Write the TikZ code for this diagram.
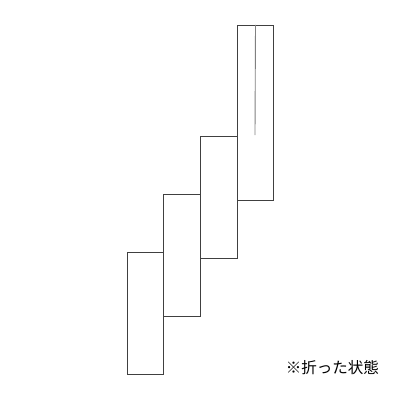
\documentclass[tikz,border=0pt]{standalone}
\usepackage{fontspec}
\newfontfamily\cjk{Noto Sans CJK JP}
\tikzset{panel/.style={draw=black!75, line width=0.9pt, inner sep=0pt, anchor=south west, minimum width=36.7pt}}
\tikzset{crease/.style={draw=black!50, line width=0.9pt}}
\begin{document}
\begin{tikzpicture}[x=1pt, y=-1pt]
  \useasboundingbox (0,0) rectangle (400,400);
  \foreach \i in {1, 2, 3} {%
    \node[panel, minimum height=122pt] (p\i) at ({126.7+36.7*(\i-1)}, {375.3-58*(\i-1)}) {};
  }
  \node[panel, minimum height=175.3pt] (p4) at (236.7, 201) {};
  \coordinate (creaseend) at (255, 135);
  \draw[crease] (p4.north) -- (creaseend);
  \node[anchor=west, inner sep=0pt, font=\cjk\fontsize{15.5pt}{18pt}\selectfont] (note) at (285.7, 368) {※折った状態};
\end{tikzpicture}
\end{document}
